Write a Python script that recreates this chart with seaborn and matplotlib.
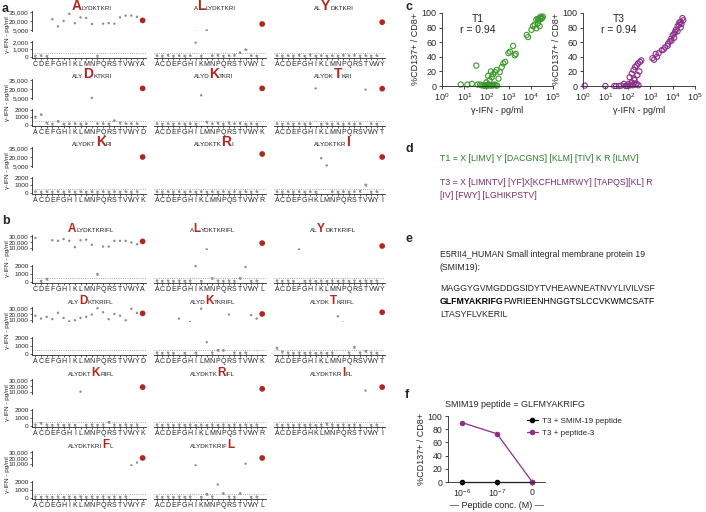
import matplotlib
matplotlib.use("Agg")
import matplotlib.pyplot as plt
from matplotlib.ticker import LogLocator, NullLocator
import seaborn as sns
import pandas as pd

# ---- a / b : gamma-IFN (pg/ml) per substituted residue, last entry = wild type
a_A_aa = "CDEFGHIKLMNPQRSTVWYA"
a_A_ifn = [150, 200, 100, 23000, 11000, 20000, 32000, 16500, 26000, 25000, 15000, 150, 15500, 16500, 15500, 26000, 29000, 29000, 27000, 21000]
a_L_aa = "ACDEFGHIKMNPQRSTVWYL"
a_L_ifn = [200, 150, 250, 150, 200, 150, 200, 1900, 150, 4500, 200, 250, 150, 200, 250, 600, 1000, 200, 150, 15000]
a_Y_aa = "ACDEFGHIKLMNPQRSTVWY"
a_Y_ifn = [200, 150, 200, 150, 250, 150, 300, 150, 200, 150, 200, 150, 250, 200, 250, 150, 200, 150, 200, 18000]
a_D_aa = "ACEFGHIKLMNPQRSTVWYD"
a_D_ifn = [1100, 1400, 300, 150, 500, 150, 200, 200, 150, 200, 5200, 200, 200, 150, 600, 300, 200, 200, 200, 21000]
a_K5_aa = "ACDEFGHILMNPQRSTVWYK"
a_K5_ifn = [200, 150, 200, 150, 200, 150, 200, 150, 9500, 400, 200, 250, 150, 300, 200, 250, 150, 200, 150, 21000]
a_T_aa = "ACDEFGHIKLMNPQRSVWYT"
a_T_ifn = [200, 150, 200, 150, 200, 150, 200, 21000, 150, 200, 150, 200, 150, 200, 150, 200, 19000, 200, 150, 20500]
a_K7_aa = "ACDEFGHILMNPQRSTVWYK"
a_K7_ifn = [200, 150, 200, 150, 200, 150, 200, 150, 200, 150, 200, 150, 200, 150, 200, 150, 200, 150, 200, 20000]
a_R_aa = "ACDEFGHIKLMNPQSTVWYR"
a_R_ifn = [200, 150, 200, 150, 200, 150, 200, 150, 200, 150, 200, 150, 200, 150, 200, 150, 200, 150, 200, 25000]
a_I_aa = "ACDEFGHKLMNPQRSTVWYI"
a_I_ifn = [200, 150, 200, 150, 200, 150, 200, 150, 18000, 6000, 200, 150, 200, 150, 200, 250, 1100, 150, 200, 20000]

b_A_aa = "CDEFGHIKLMNPQRSTVWYA"
b_A_ifn = [27000, 150, 400, 23000, 22000, 25000, 22000, 11000, 23000, 24000, 15000, 1000, 12000, 12000, 22000, 22000, 22000, 19000, 16000, 21000]
b_L_aa = "ACDEFGHIKMNPQRSTVWYL"
b_L_ifn = [200, 150, 200, 150, 200, 150, 200, 2000, 150, 7000, 500, 200, 150, 200, 150, 500, 1900, 150, 200, 18000]
b_Y_aa = "ACDEFGHIKLMNPQRSTVWY"
b_Y_ifn = [200, 150, 200, 150, 7000, 150, 200, 150, 200, 150, 200, 150, 200, 150, 200, 150, 200, 150, 200, 13000]
b_D_aa = "ACEFGHIKLMNPQRSTVWYD"
b_D_ifn = [17000, 12000, 15000, 11000, 22000, 13000, 7000, 9000, 13000, 15000, 19000, 30000, 23000, 11000, 20000, 17000, 9000, 29000, 22000, 21000]
b_K5_aa = "ACDEFGHILMNPQRSTVWYK"
b_K5_ifn = [200, 150, 200, 150, 12000, 150, 6000, 200, 29000, 1500, 200, 500, 500, 19000, 200, 150, 200, 18000, 12000, 20000]
b_T_aa = "ACDEFGHIKLMNPQRSVWYT"
b_T_ifn = [800, 300, 200, 150, 200, 150, 200, 150, 200, 150, 200, 16000, 5000, 200, 900, 200, 400, 200, 150, 23000]
b_K7_aa = "ACDEFGHILMNPQRSTVWYK"
b_K7_ifn = [200, 400, 200, 150, 200, 150, 200, 150, 10000, 150, 200, 150, 200, 500, 200, 150, 200, 150, 200, 18000]
b_R_aa = "ACDEFGHIKLMNPQSTVWYR"
b_R_ifn = [200, 150, 200, 150, 200, 150, 200, 150, 200, 150, 200, 150, 200, 150, 200, 150, 200, 150, 200, 15000]
b_I_aa = "ACDEFGHKLMNPQRSTVWYI"
b_I_ifn = [200, 150, 200, 150, 200, 150, 200, 150, 200, 300, 200, 150, 200, 150, 200, 150, 12000, 150, 200, 18000]
b_F_aa = "ACDEGHIKLMNPQRSTVWYF"
b_F_ifn = [200, 150, 200, 150, 200, 150, 200, 150, 200, 150, 200, 150, 200, 150, 200, 150, 200, 7000, 12000, 20000]
b_L11_aa = "ACDEFGHIKMNPQRSTVWYL"
b_L11_ifn = [200, 150, 200, 150, 200, 150, 200, 7000, 150, 500, 200, 1700, 600, 200, 150, 600, 10000, 150, 200, 20000]

threshold = 500

# ---- c : gamma-IFN (pg/ml) vs %CD137+ of CD8+
t1_ifn = [7, 14, 22, 35, 40, 52, 60, 75, 85, 95, 110, 120, 130, 150, 170, 200, 230, 260, 300,
          100, 140, 175, 200, 245, 290, 350, 400, 490, 580, 700, 160, 120,
          980, 1150, 1600, 1900, 2100, 6500, 7500, 10700, 12500, 15000, 17800, 21000,
          25000, 30000, 35000, 21000, 25000, 17800, 28000, 32000, 23000]
t1_cd137 = [2, 2, 3, 28, 2, 2, 1, 0.5, 1, 0.5, 1, 0.5, 2, 1, 0.5, 1, 2, 1, 0.5,
            5, 8, 12, 16, 19, 22, 10, 19, 26, 31, 33, 20, 14,
            45, 47, 55, 42, 44, 70, 67, 77, 82, 84, 91, 92,
            93, 92, 95, 86, 82, 79, 95, 93, 90]
t3_ifn = [1.2, 10, 25, 30, 40, 50, 68, 80, 90, 100, 110, 120, 150, 180, 210, 250, 290, 350, 400,
          150, 200, 250, 130, 170, 220, 300, 330, 270, 190,
          1250, 1750, 2400, 3300, 4600, 6300, 7400, 8700, 10200, 12000, 14000, 16600, 19500,
          23000, 27500, 23000, 16600, 11700, 9000, 30000, 20000, 25000, 13000, 6000, 4000, 2000, 1500]
t3_cd137 = [0.5, 0, 0, 0, 0, 0.5, 3, 0, 0.5, 0, 3, 12, 17, 22, 26, 28, 31, 33, 35,
            5, 8, 3, 1, 1, 2, 1, 20, 15, 10,
            38, 44, 45, 49, 53, 58, 61, 65, 70, 72, 77, 82, 84,
            88, 93, 80, 75, 66, 62, 90, 87, 85, 74, 55, 50, 40, 36]

# ---- f : dose response
f_conc = ["10$^{-6}$", "10$^{-7}$", "0"]
f_smim19 = [0.5, 0.5, 0.5]
f_pep3 = [90, 73, 0.5]

W, H = 706, 512
red = "#b3261e"
grey = "#8d8d8d"
green = "#3a9a2c"
purple = "#8b2f8b"
d_green = "#2e7a27"
d_purple = "#7b2c6c"

sns.set_style("ticks")
plt.rcParams["font.family"] = ["Liberation Sans", "DejaVu Sans"]
plt.rcParams["mathtext.fontset"] = "custom"
plt.rcParams["mathtext.rm"] = "Liberation Sans"
plt.rcParams["mathtext.it"] = "Liberation Sans:italic"
plt.rcParams["axes.linewidth"] = 0.6

fig = plt.figure(figsize=(W / 100, H / 100), dpi=100)
renderer = fig.canvas.get_renderer()


def rect(x0, y0, x1, y1):
    return [x0 / W, 1 - y1 / H, (x1 - x0) / W, (y1 - y0) / H]


def put(x, y, s, **kw):
    return fig.text(x / W, 1 - y / H, s, **kw)


def chain(x, y, parts):
    # pieces of text side by side on one baseline
    for s, size, color, weight in parts:
        if not s:
            continue
        t = put(x, y, s, fontsize=size, color=color, fontweight=weight, va="baseline", ha="left")
        x = t.get_window_extent(renderer).x1


def mut_plot(xr, top_px, bot_px, top_lim, bot_lim, top_ticks, top_lbls, bot_ticks, bot_lbls,
             letters, vals, first):
    ax_t = fig.add_axes(rect(xr[0], top_px[0], xr[1], top_px[1]))
    ax_b = fig.add_axes(rect(xr[0], bot_px[0], xr[1], bot_px[1]))
    df = pd.DataFrame({"aa": list(letters), "ifn": vals})
    df["pos"] = range(len(df))
    mut = df.iloc[:-1]
    wt = df.iloc[-1:]
    for ax, lim in ((ax_t, top_lim), (ax_b, bot_lim)):
        sns.scatterplot(data=mut, x="pos", y="ifn", ax=ax, color=grey, s=3, edgecolor="none", zorder=3)
        sns.scatterplot(data=wt, x="pos", y="ifn", ax=ax, color=red, s=17, edgecolor="none", zorder=4)
        ax.set_xlim(-0.6, len(df) - 0.4)
        ax.set_ylim(*lim)
        ax.set_xlabel("")
        ax.set_ylabel("")
        ax.spines["top"].set_visible(False)
        ax.spines["right"].set_visible(False)
        ax.spines["left"].set_visible(first)
        ax.tick_params(axis="y", labelsize=4.6, length=1.5, width=0.5, pad=0.8)
    low = mut[mut.ifn < 1500]
    ax_b.errorbar(low.pos, low.ifn, yerr=120, fmt="none", ecolor=grey,
                  elinewidth=0.5, capsize=0.8, capthick=0.5, zorder=2)
    ax_b.axhline(threshold, color=grey, ls=":", lw=0.6, zorder=1)
    ax_t.spines["bottom"].set_visible(False)
    ax_t.set_xticks([])
    ax_b.set_xticks(df.pos)
    ax_b.set_xticklabels(df.aa)
    ax_b.tick_params(axis="x", labelsize=5, length=1.5, width=0.5, pad=0.5)
    if first:
        ax_t.set_yticks(top_ticks)
        ax_t.set_yticklabels(top_lbls)
        ax_b.set_yticks(bot_ticks)
        ax_b.set_yticklabels(bot_lbls)
        put(8, (top_px[0] + bot_px[1]) / 2, "γ-IFN - pg/ml", fontsize=4.6, rotation=90,
            ha="center", va="center")
    else:
        ax_t.set_yticks([])
        ax_b.set_yticks([])


cols = [(32, 146), (153.5, 265.5), (273.5, 385.5)]

a_plots = [
    (0, 0, "", "A", "LYDKTKRI", a_A_aa, a_A_ifn),
    (0, 1, "A", "L", "LYDKTKRI", a_L_aa, a_L_ifn),
    (0, 2, "AL", "Y", "DKTKRI", a_Y_aa, a_Y_ifn),
    (1, 0, "ALY", "D", "KTKRI", a_D_aa, a_D_ifn),
    (1, 1, "ALYD", "K", "TKRI", a_K5_aa, a_K5_ifn),
    (1, 2, "ALYDK", "T", "KRI", a_T_aa, a_T_ifn),
    (2, 0, "ALYDKT", "K", "RI", a_K7_aa, a_K7_ifn),
    (2, 1, "ALYDKTK", "R", "I", a_R_aa, a_R_ifn),
    (2, 2, "ALYDKTKR", "I", "", a_I_aa, a_I_ifn),
]
b_plots = [
    (0, 0, "", "A", "LYDKTKRIFL", b_A_aa, b_A_ifn),
    (0, 1, "A", "L", "YDKTKRIFL", b_L_aa, b_L_ifn),
    (0, 2, "AL", "Y", "DKTKRIFL", b_Y_aa, b_Y_ifn),
    (1, 0, "ALY", "D", "KTKRIFL", b_D_aa, b_D_ifn),
    (1, 1, "ALYD", "K", "TKRIFL", b_K5_aa, b_K5_ifn),
    (1, 2, "ALYDK", "T", "KRIFL", b_T_aa, b_T_ifn),
    (2, 0, "ALYDKT", "K", "RIFL", b_K7_aa, b_K7_ifn),
    (2, 1, "ALYDKTK", "R", "IFL", b_R_aa, b_R_ifn),
    (2, 2, "ALYDKTKR", "I", "FL", b_I_aa, b_I_ifn),
    (3, 0, "ALYDKTKRI", "F", "L", b_F_aa, b_F_ifn),
    (3, 1, "ALYDKTKRIF", "L", "", b_L11_aa, b_L11_ifn),
]

a_off = [0, 68, 136]
for r, c, pre, big, post, aa, vals in a_plots:
    o = a_off[r]
    top_px = (11.4 + o, 31.2 + o)
    bot_px = (40.5 + o, 58.1 + o)
    blbl = ["0", "1,000", "2,000"] if r == 0 else ["0", "1000", "2000"]
    mut_plot(cols[c], top_px, bot_px, (3000, 36000), (-150, 2200),
             [5000, 20000, 35000], ["5,000", "20,000", "35,000"], [0, 1000, 2000], blbl,
             aa, vals, c == 0)
    chain(cols[c][0] + 40, top_px[0] - 1.2,
          [(pre, 4.5, "#222222", "normal"), (big, 10, red, "bold"), (post, 4.5, "#222222", "normal")])

b_off = [0, 72, 144, 216]
for r, c, pre, big, post, aa, vals in b_plots:
    o = b_off[r]
    top_px = (234.5 + o, 250 + o)
    bot_px = (264.6 + o, 283.4 + o)
    mut_plot(cols[c], top_px, bot_px, (6000, 33000), (-150, 2200),
             [10000, 20000, 30000], ["10,000", "20,000", "30,000"], [0, 1000, 2000], ["0", "1000", "2000"],
             aa, vals, c == 0)
    chain(cols[c][0] + 36, top_px[0] - 2,
          [(pre, 4.5, "#222222", "normal"), (big, 8.5, red, "bold"), (post, 4.5, "#222222", "normal")])

# ---- c
for x0, x1, ifn, pct, col, name in ((442, 553, t1_ifn, t1_cd137, green, "T1"),
                                     (583, 695, t3_ifn, t3_cd137, purple, "T3")):
    ax = fig.add_axes(rect(x0, 13, x1, 86))
    sns.scatterplot(x=ifn, y=pct, ax=ax, color=col, facecolor="none", edgecolor=col,
                    s=14, linewidth=0.8, clip_on=False)
    ax.set_xscale("log")
    ax.set_xlim(1, 1e5)
    ax.set_ylim(0, 100)
    ax.xaxis.set_major_locator(LogLocator(base=10, numticks=10))
    ax.xaxis.set_minor_locator(NullLocator())
    ax.set_yticks([0, 20, 40, 60, 80, 100])
    ax.tick_params(labelsize=6.5, length=2.5, width=0.6, pad=1.5)
    ax.set_xlabel("γ-IFN - pg/ml", fontsize=6.5, labelpad=2)
    ax.set_ylabel("%CD137+ / CD8+", fontsize=6.5, labelpad=1)
    sns.despine(ax=ax)
    ax.text(0.32, 0.88, name, transform=ax.transAxes, fontsize=7.5, ha="center")
    ax.text(0.32, 0.72, "r = 0.94", transform=ax.transAxes, fontsize=7.5, ha="center")

# ---- panel letters
for lbl, x, y in (("a", 2, 12), ("b", 2, 224), ("c", 405, 10), ("d", 405, 152),
                  ("e", 405, 242), ("f", 405, 398)):
    put(x, y, lbl, fontsize=9, fontweight="bold", va="baseline")

# ---- d
put(440, 161, "T1 = X [LIMV] Y [DACGNS] [KLM] [TIV] K R [ILMV]", fontsize=6.3, color=d_green, va="baseline")
put(440, 185, "T3 = X [LIMNTV] [YF]X[KCFHLMRWY] [TAPQS][KL] R", fontsize=6.3, color=d_purple, va="baseline")
put(440, 198, "[IV] [FWY] [LGHIKPSTV]", fontsize=6.3, color=d_purple, va="baseline")

# ---- e
put(440, 257, "E5RII4_HUMAN Small integral membrane protein 19", fontsize=6.3, va="baseline")
put(440, 270, "(SMIM19):", fontsize=6.3, va="baseline")
put(440, 291, "MAGGYGVMGDDGSIDYTVHEAWNEATNVYLIVILVSF", fontsize=6.3, va="baseline")
chain(440, 304, [("GLFMYAKRIFG", 6.3, "black", "bold"),
                 ("FWRIEENHNGGTSLCCVKWMCSATF", 6.3, "black", "normal")])
put(440, 317, "LTASYFLVKERIL", fontsize=6.3, va="baseline")

# ---- f
put(445, 407, "SMIM19 peptide = GLFMYAKRIFG", fontsize=6.5, va="baseline")
df_f = pd.DataFrame({
    "conc": f_conc * 2,
    "pct": f_smim19 + f_pep3,
    "group": ["T3 + SMIM-19 peptide"] * 3 + ["T3 + peptide-3"] * 3,
})
axf = fig.add_axes(rect(448, 416, 545, 482))
sns.lineplot(data=df_f, x="conc", y="pct", hue="group", sort=False, ax=axf,
             palette={"T3 + SMIM-19 peptide": "black", "T3 + peptide-3": purple},
             marker="o", markersize=4, markeredgewidth=0, linewidth=0.9, clip_on=False)
axf.set_xlim(-0.4, 2.37)
axf.set_ylim(0, 100)
axf.set_yticks([0, 20, 40, 60, 80, 100])
axf.tick_params(labelsize=6.3, length=2.5, width=0.6, pad=1.5)
axf.set_xlabel("— Peptide conc. (M) —", fontsize=6.5, labelpad=1)
axf.set_ylabel("%CD137+ / CD8+", fontsize=6.5, labelpad=1)
sns.despine(ax=axf)
axf.legend(frameon=False, fontsize=5.8, handlelength=1.3, handletextpad=0.5, labelspacing=0.5,
           loc="upper left", bbox_to_anchor=(520 / W, 1 - 410 / H), bbox_transform=fig.transFigure)

fig.savefig("out.png", dpi=100)
